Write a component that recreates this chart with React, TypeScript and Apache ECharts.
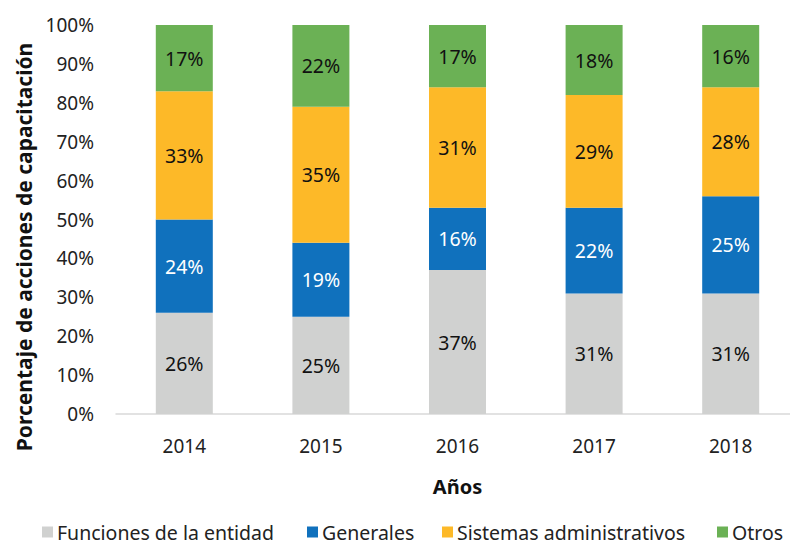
import React, { useEffect, useRef } from "react";
import * as echarts from "echarts";

const years = ["2014", "2015", "2016", "2017", "2018"];
const funciones = [26, 25, 37, 31, 31];
const generales = [24, 19, 16, 22, 25];
const sistemas = [33, 35, 31, 29, 28];
const otros = [17, 22, 17, 18, 16];
const yTicks = [0, 10, 20, 30, 40, 50, 60, 70, 80, 90, 100];

const seriesNames = ["Funciones de la entidad", "Generales", "Sistemas administrativos", "Otros"];
const seriesColors = ["#D0D1D0", "#1071BD", "#FDB928", "#6BB155"];
const labelColors = ["#111", "#fff", "#111", "#111"];
const legendLefts = [42, 307, 442, 717];
const yTitle = "Porcentaje de acciones de capacitación";

const FONT = "Noto Sans";

export default function App() {
  const ref = useRef<HTMLDivElement>(null);
  useEffect(() => {
    if (!ref.current) return;
    const chart = echarts.init(ref.current, null, { renderer: "svg" });
    const data = [funciones, generales, sistemas, otros];
    chart.setOption({
      animation: false,
      textStyle: { fontFamily: FONT },
      grid: { left: 116, right: 1, top: 25, bottom: 130 },
      legend: seriesNames.map((n, i) => ({
        data: [n],
        left: legendLefts[i],
        top: 522,
        padding: 0,
        itemWidth: 11,
        itemHeight: 11,
        itemGap: 8,
        icon: "rect",
        textStyle: {
          fontFamily: FONT,
          fontSize: 19.5,
          lineHeight: 20,
          color: "#222",
          padding: [0, 0, 0, -1],
        },
        selectedMode: false,
      })),
      graphic: [
        {
          type: "text",
          x: 24,
          y: 247,
          rotation: Math.PI / 2,
          style: {
            text: yTitle,
            fontFamily: FONT,
            fontSize: 21,
            fontWeight: "bold",
            fill: "#111",
            textAlign: "center",
            textVerticalAlign: "middle",
          },
        },
      ],
      xAxis: {
        type: "category",
        data: years,
        axisLine: { lineStyle: { color: "#D9D9D9", width: 1.5 } },
        axisTick: { show: false },
        axisLabel: { fontFamily: FONT, fontSize: 19, color: "#222", margin: 22 },
        name: "Años",
        nameLocation: "middle",
        nameGap: 62,
        nameTextStyle: { fontFamily: FONT, fontSize: 20, fontWeight: "bold", color: "#111" },
      },
      yAxis: {
        type: "value",
        min: 0,
        max: 100,
        interval: 10,
        axisLine: { show: false },
        axisTick: { show: false },
        splitLine: { show: false },
        axisLabel: {
          fontFamily: FONT,
          fontSize: 19,
          color: "#222",
          margin: 22,
          formatter: (v: number) => (yTicks.includes(v) ? v + "%" : ""),
        },
      },
      series: seriesNames.map((n, i) => ({
        name: n,
        type: "bar",
        stack: "total",
        barWidth: 57,
        data: data[i],
        itemStyle: { color: seriesColors[i] },
        label: {
          show: true,
          position: "inside",
          formatter: "{c}%",
          fontFamily: FONT,
          fontSize: 19.5,
          color: labelColors[i],
        },
      })),
    });
    return () => chart.dispose();
  }, []);
  return (
    <div
      style={{
        position: "absolute",
        left: 0,
        top: 0,
        width: 790,
        height: 544,
        overflow: "hidden",
        background: "#fff",
      }}
    >
      <div ref={ref} style={{ width: 800, height: 544 }} />
    </div>
  );
}
